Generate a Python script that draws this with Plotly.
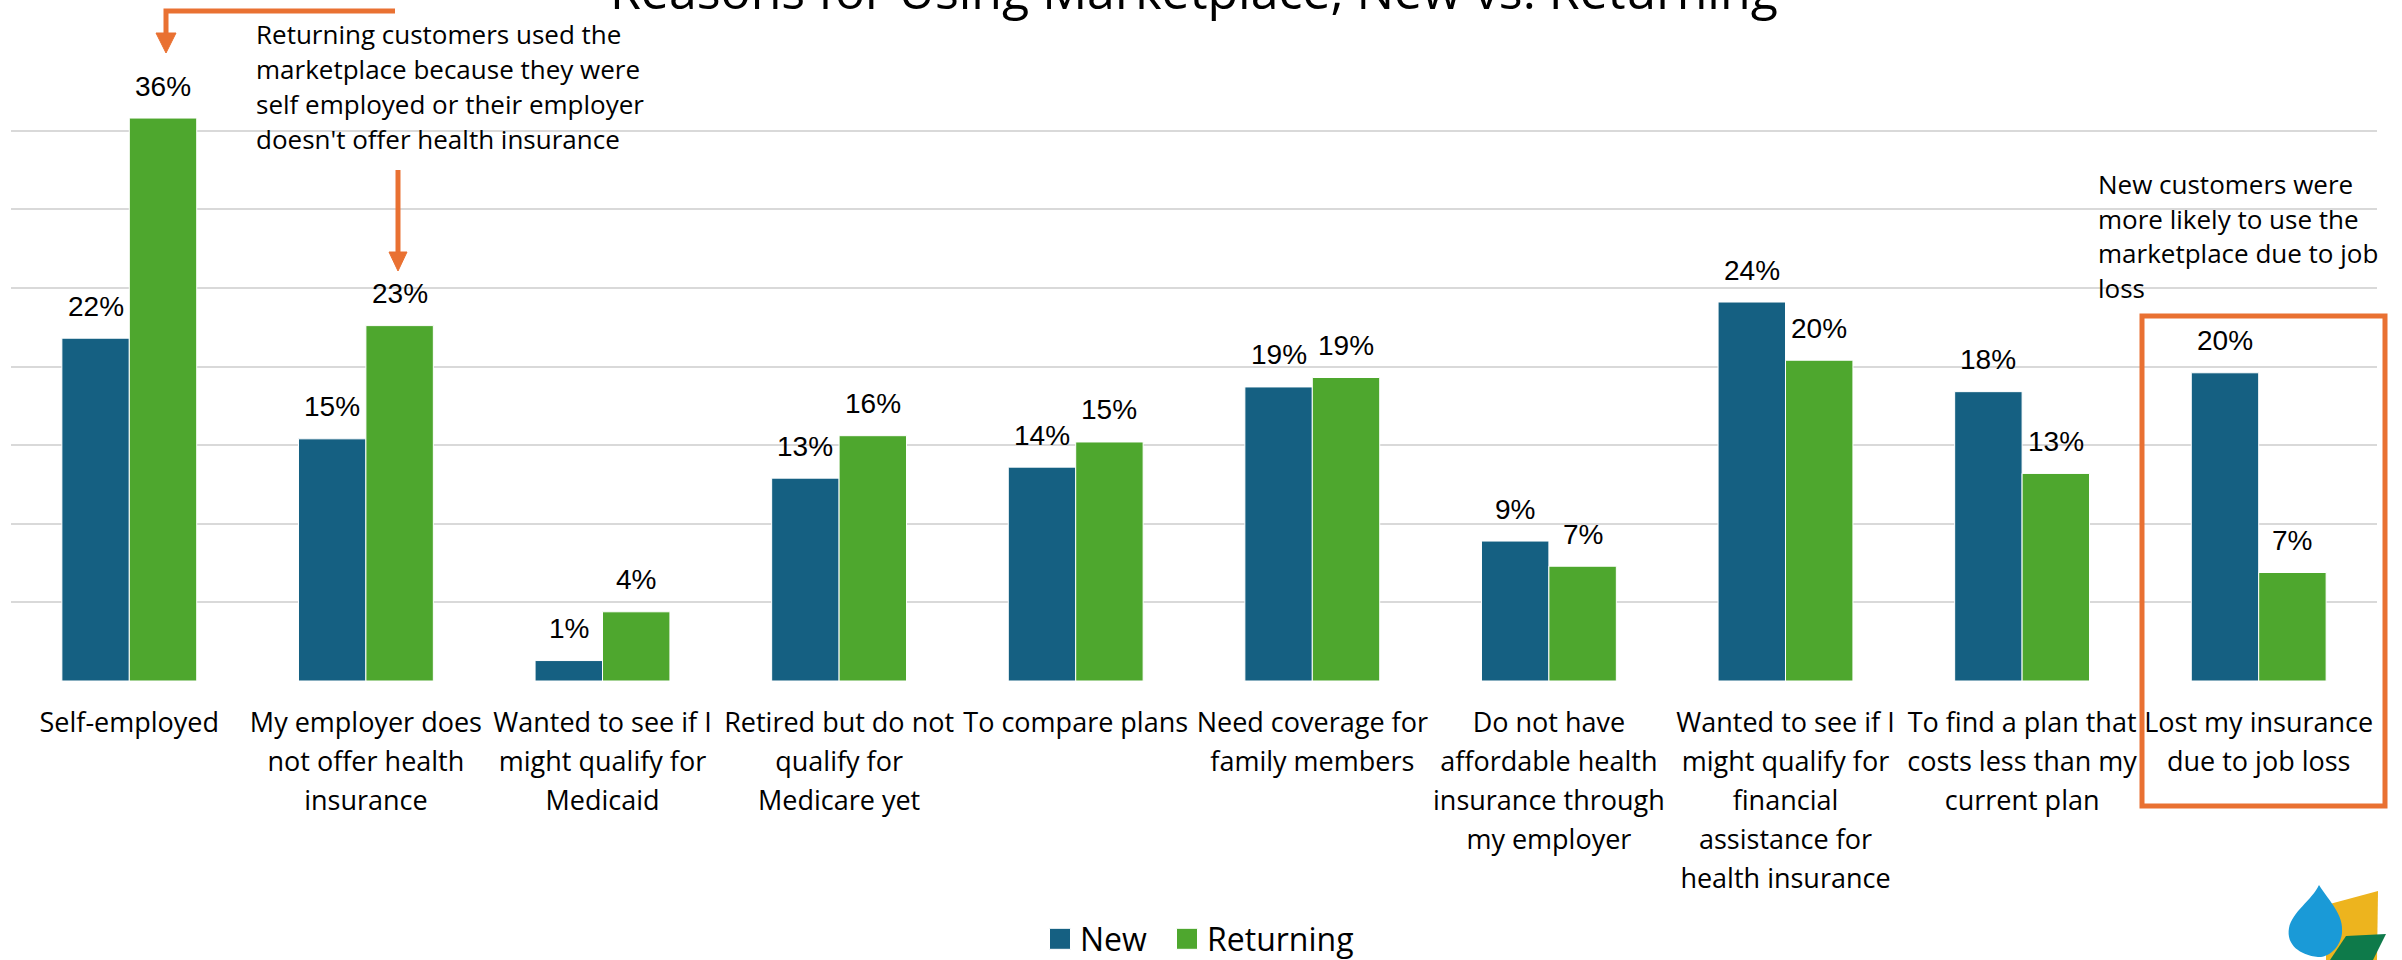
import plotly.graph_objects as go

# ---------------- data ----------------
categories = [
    "Self-employed",
    "My employer does not offer health insurance",
    "Wanted to see if I might qualify for Medicaid",
    "Retired but do not qualify for Medicare yet",
    "To compare plans",
    "Need coverage for family members",
    "Do not have affordable health insurance through my employer",
    "Wanted to see if I might qualify for financial assistance for health insurance",
    "To find a plan that costs less than my current plan",
    "Lost my insurance due to job loss",
]
tick_labels = [
    "Self-employed",
    "My employer does<br>not offer health<br>insurance",
    "Wanted to see if I<br>might qualify for<br>Medicaid",
    "Retired but do not<br>qualify for<br>Medicare yet",
    "To compare plans",
    "Need coverage for<br>family members",
    "Do not have<br>affordable health<br>insurance through<br>my employer",
    "Wanted to see if I<br>might qualify for<br>financial<br>assistance for<br>health insurance",
    "To find a plan that<br>costs less than my<br>current plan",
    "Lost my insurance<br>due to job loss",
]
new_values = [21.8, 15.4, 1.3, 12.9, 13.6, 18.7, 8.9, 24.1, 18.4, 19.6]
returning_values = [35.8, 22.6, 4.4, 15.6, 15.2, 19.3, 7.3, 20.4, 13.2, 6.9]
series_names = ["New", "Returning"]
title_text = "Reasons for Using Marketplace, New vs. Returning"
note_returning_lines = [
    "Returning customers used the",
    "marketplace because they were",
    "self employed or their employer",
    "doesn't offer health insurance",
]
note_new_lines = [
    "New customers were",
    "more likely to use the",
    "marketplace due to job",
    "loss",
]

# ---------------- style ----------------
W, H = 2402, 960
ML, MR, MT, MB = 11, 25, 52, 279
PW, PH = W - ML - MR, H - MT - MB
BLUE = "#156082"
GREEN = "#4EA72E"
ORANGE = "#E97132"
TXT_FONT = "Open Sans"
NUM_FONT = "Liberation Sans"
TICK_SIZE = 27          # glyph size of the category labels
TICK_LINE_SIZE = 30     # font size that drives the line spacing of the labels
BAR_HALF_PX = 33.75     # half width of a bar (px) for label offsets


def px(x):
    return (x - ML) / PW


def py(y):
    return (H - MB - y) / PH


def styled_tick(label):
    return "<br>".join(
        f"<span style='font-size:{TICK_SIZE}px'>{part}</span>" for part in label.split("<br>")
    )


fig = go.Figure()
for name, vals, color, leg in ((series_names[0], new_values, BLUE, "legend"),
                               (series_names[1], returning_values, GREEN, "legend2")):
    fig.add_trace(go.Bar(
        name=name, x=categories, y=vals, legend=leg,
        marker=dict(color=color, line=dict(color="white", width=1)),
        hoverinfo="x+y",
    ))

annotations = []
# data labels, placed from the data values
for vals, shift in ((new_values, -BAR_HALF_PX), (returning_values, BAR_HALF_PX)):
    for cat, v in zip(categories, vals):
        annotations.append(dict(
            x=cat, y=v, xref="x", yref="y", xshift=shift, yshift=14.5,
            text=f"{v:.0f}%", showarrow=False, xanchor="center", yanchor="bottom",
            font=dict(family=NUM_FONT, size=28, color="#000000"),
        ))
# title (partly cut off at top, as in the reference)
annotations.append(dict(
    text=title_text, x=0.5, y=py(26), xref="paper", yref="paper",
    xanchor="center", yanchor="bottom", showarrow=False,
    font=dict(family=TXT_FONT, size=50, color="#000000"),
))
for i, line in enumerate(note_returning_lines):
    annotations.append(dict(
        text=line, x=px(254), y=py(34 + 35 * i), xref="paper", yref="paper",
        xanchor="left", yanchor="middle", showarrow=False, align="left",
        font=dict(family=TXT_FONT, size=26, color="#000000"),
    ))
for i, line in enumerate(note_new_lines):
    annotations.append(dict(
        text=line, x=px(2096), y=py(184 + 34.7 * i), xref="paper", yref="paper",
        xanchor="left", yanchor="middle", showarrow=False, align="left",
        font=dict(family=TXT_FONT, size=26, color="#000000"),
    ))

shapes = []
# arrow 1: elbow arrow pointing to Self-employed returning bar
shapes.append(dict(type="path", xref="paper", yref="paper",
                   path=f"M{px(395)},{py(11)} L{px(166)},{py(11)} L{px(166)},{py(34)}",
                   line=dict(color=ORANGE, width=5)))
shapes.append(dict(type="path", xref="paper", yref="paper",
                   path=f"M{px(156)},{py(33)} L{px(176)},{py(33)} L{px(166)},{py(53)} Z",
                   fillcolor=ORANGE, line=dict(color=ORANGE, width=1)))
# arrow 2: vertical arrow to employer returning bar
shapes.append(dict(type="line", xref="paper", yref="paper",
                   x0=px(398), x1=px(398), y0=py(170), y1=py(254),
                   line=dict(color=ORANGE, width=5)))
shapes.append(dict(type="path", xref="paper", yref="paper",
                   path=f"M{px(389)},{py(252)} L{px(407)},{py(252)} L{px(398)},{py(271)} Z",
                   fillcolor=ORANGE, line=dict(color=ORANGE, width=1)))
# highlight box
shapes.append(dict(type="rect", xref="paper", yref="paper",
                   x0=px(2142), x1=px(2385), y0=py(316), y1=py(806),
                   line=dict(color=ORANGE, width=5), fillcolor="rgba(0,0,0,0)"))
# logo (bottom-right corner)
shapes.append(dict(type="path", xref="paper", yref="paper", layer="above",
                   path=(f"M{px(2326)},{py(905)} L{px(2378)},{py(891)} "
                         f"L{px(2377)},{py(960)} L{px(2326)},{py(960)} Z"),
                   fillcolor="#EDB41E", line=dict(width=0)))
shapes.append(dict(type="path", xref="paper", yref="paper", layer="above",
                   path=(f"M{px(2319)},{py(885)} "
                         f"C{px(2330)},{py(902)} {px(2344)},{py(915)} {px(2342)},{py(933)} "
                         f"C{px(2340)},{py(950)} {px(2326)},{py(958)} {px(2318)},{py(957)} "
                         f"C{px(2300)},{py(955)} {px(2286)},{py(945)} {px(2289)},{py(928)} "
                         f"C{px(2292)},{py(912)} {px(2312)},{py(900)} {px(2319)},{py(885)} Z"),
                   fillcolor="#1A9AD7", line=dict(width=0)))
shapes.append(dict(type="path", xref="paper", yref="paper", layer="above",
                   path=(f"M{px(2330)},{py(960)} L{px(2346)},{py(936)} "
                         f"L{px(2386)},{py(934)} L{px(2373)},{py(960)} Z"),
                   fillcolor="#0E7A4A", line=dict(width=0)))

legend_common = dict(orientation="h", yanchor="middle", xanchor="left",
                     font=dict(family=TXT_FONT, size=32, color="#000000"),
                     bgcolor="rgba(0,0,0,0)")

fig.update_layout(
    width=W, height=H,
    margin=dict(l=ML, r=MR, t=MT, b=MB, autoexpand=False),
    paper_bgcolor="white", plot_bgcolor="white",
    barmode="group", bargap=0.43, bargroupgap=0,
    showlegend=True,
    legend=dict(x=px(1040), y=py(939), **legend_common),
    legend2=dict(x=px(1167), y=py(939), **legend_common),
    annotations=annotations, shapes=shapes,
    xaxis=dict(tickmode="array", tickvals=categories,
               ticktext=[styled_tick(t) for t in tick_labels],
               tickfont=dict(family=TXT_FONT, size=TICK_LINE_SIZE, color="#000000"),
               ticks="", showline=False, showgrid=False, tickangle=0,
               ticklabelstandoff=20),
    yaxis=dict(range=[0, 40], dtick=5, showticklabels=False, showgrid=True,
               gridcolor="#D9D9D9", gridwidth=2, zeroline=False, showline=False),
)

legend_js = (
    "document.querySelectorAll('.legendpoints path').forEach(function(p){"
    "p.setAttribute('d','M10.5,10.5H-10.5V-10.5H10.5Z');});"
)
fig.write_html("out.html", post_script=legend_js)
